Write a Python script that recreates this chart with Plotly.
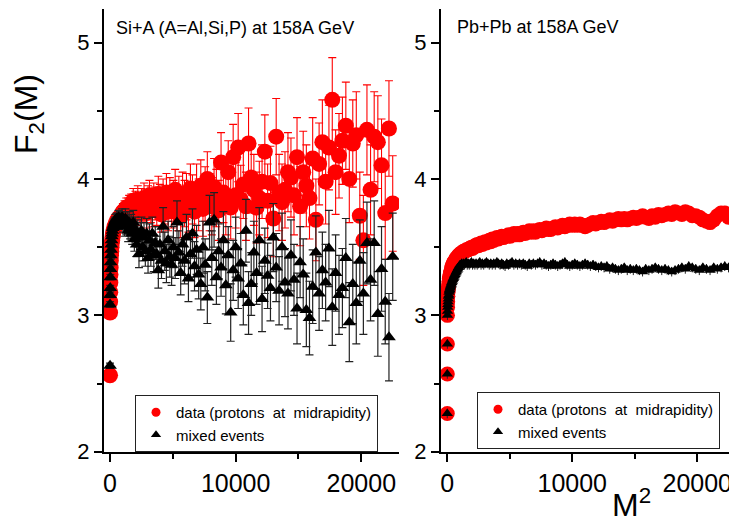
import plotly.graph_objects as go

# ---------------- data ----------------
# invariant-mass bins M = 1..150, plotted against M^2
M_bins = list(range(1, 151))
m_sq = [m * m for m in M_bins]

# Si+A panel
si_data = [
    2.56, 3.02, 3.10, 3.17, 3.24, 3.30, 3.35, 3.40, 3.44, 3.47,
    3.50, 3.53, 3.55, 3.57, 3.59, 3.61, 3.62, 3.63, 3.65, 3.66,
    3.66, 3.68, 3.67, 3.70, 3.69, 3.71, 3.70, 3.72, 3.73, 3.72,
    3.74, 3.76, 3.73, 3.77, 3.75, 3.79, 3.74, 3.78, 3.80, 3.76,
    3.81, 3.77, 3.84, 3.79, 3.82, 3.76, 3.85, 3.80, 3.78, 3.83,
    3.79, 3.86, 3.81, 3.75, 3.84, 3.88, 3.80, 3.77, 3.85, 3.82,
    3.78, 3.89, 3.83, 3.74, 3.87, 3.81, 3.90, 3.76, 3.86, 3.79,
    3.84, 3.92, 3.78, 3.86, 3.73, 3.88, 3.82, 3.87, 3.79, 3.93,
    3.85, 3.76, 3.92, 3.81, 3.95, 3.78, 3.89, 4.00, 3.83, 3.80,
    3.94, 3.86, 3.77, 4.12, 3.90, 3.82, 4.05, 3.79, 4.16, 3.88,
    4.23, 3.85, 3.96, 3.80, 4.26, 4.01, 3.92, 3.79, 3.86, 3.98,
    4.20, 3.84, 3.97, 3.71, 4.31, 3.90, 3.83, 3.92, 4.05, 4.01,
    3.88, 4.16, 3.80, 4.05, 3.95, 3.86, 4.15, 3.70, 4.11, 4.27,
    3.98, 4.23, 4.58, 4.05, 4.17, 4.28, 4.39, 4.00, 4.26, 4.32,
    3.73, 3.55, 4.36, 3.92, 4.31, 4.27, 4.10, 3.75, 4.37, 3.82,
]
si_data_err = [
    0.03, 0.02, 0.02, 0.02, 0.02, 0.02, 0.02, 0.02, 0.02, 0.02,
    0.03, 0.03, 0.03, 0.03, 0.03, 0.03, 0.03, 0.03, 0.03, 0.03,
    0.04, 0.04, 0.04, 0.05, 0.05, 0.05, 0.05, 0.05, 0.06, 0.06,
    0.06, 0.06, 0.07, 0.07, 0.07, 0.07, 0.08, 0.08, 0.08, 0.08,
    0.08, 0.09, 0.09, 0.09, 0.09, 0.10, 0.10, 0.10, 0.10, 0.10,
    0.10, 0.11, 0.11, 0.11, 0.11, 0.11, 0.12, 0.12, 0.12, 0.12,
    0.12, 0.13, 0.13, 0.13, 0.13, 0.14, 0.14, 0.14, 0.15, 0.15,
    0.15, 0.15, 0.16, 0.16, 0.16, 0.17, 0.17, 0.17, 0.18, 0.18,
    0.18, 0.19, 0.19, 0.19, 0.19, 0.20, 0.20, 0.20, 0.21, 0.21,
    0.21, 0.21, 0.22, 0.22, 0.22, 0.23, 0.23, 0.23, 0.24, 0.24,
    0.25, 0.25, 0.25, 0.25, 0.26, 0.26, 0.26, 0.26, 0.27, 0.27,
    0.27, 0.27, 0.27, 0.28, 0.28, 0.28, 0.28, 0.28, 0.29, 0.29,
    0.29, 0.29, 0.29, 0.30, 0.30, 0.30, 0.30, 0.30, 0.30, 0.31,
    0.31, 0.31, 0.31, 0.31, 0.31, 0.32, 0.32, 0.32, 0.32, 0.32,
    0.32, 0.33, 0.33, 0.33, 0.33, 0.34, 0.34, 0.34, 0.35, 0.35,
]
si_mixed = [
    2.63, 3.08, 3.15, 3.20, 3.28, 3.34, 3.39, 3.44, 3.48, 3.52,
    3.55, 3.58, 3.60, 3.62, 3.64, 3.65, 3.66, 3.67, 3.68, 3.69,
    3.70, 3.68, 3.71, 3.69, 3.70, 3.72, 3.68, 3.71, 3.69, 3.70,
    3.72, 3.67, 3.70, 3.65, 3.71, 3.66, 3.69, 3.62, 3.68, 3.64,
    3.66, 3.60, 3.68, 3.56, 3.63, 3.52, 3.60, 3.45, 3.58, 3.62,
    3.50, 3.57, 3.47, 3.60, 3.42, 3.55, 3.48, 3.60, 3.44, 3.53,
    3.45, 3.33, 3.52, 3.40, 3.65, 3.47, 3.38, 3.55, 3.43, 3.37,
    3.50, 3.42, 3.68, 3.46, 3.31, 3.52, 3.40, 3.57, 3.27, 3.45,
    3.60, 3.36, 3.48, 3.30, 3.23, 3.50, 3.37, 3.13, 3.68, 3.42,
    3.70, 3.28, 3.47, 3.35, 3.55, 3.22, 3.44, 3.02, 3.33, 3.50,
    3.27, 3.38, 3.15, 3.62, 3.09, 3.23, 3.46, 3.31, 3.55, 3.12,
    3.40, 3.29, 3.20, 3.57, 3.35, 3.18, 3.50, 3.24, 3.16, 3.44,
    3.26, 3.05, 3.39, 3.30, 3.04, 2.98, 3.21, 3.46, 3.16, 3.33,
    3.24, 3.49, 3.06, 3.31, 3.15, 3.20, 3.42, 2.95, 3.23, 3.09,
    3.40, 3.16, 3.53, 3.26, 3.53, 3.01, 3.34, 3.10, 2.84, 3.43,
]
si_mixed_err = [
    0.02, 0.02, 0.02, 0.02, 0.02, 0.02, 0.02, 0.02, 0.02, 0.02,
    0.03, 0.03, 0.03, 0.03, 0.03, 0.03, 0.03, 0.03, 0.03, 0.03,
    0.04, 0.04, 0.04, 0.04, 0.05, 0.05, 0.05, 0.05, 0.05, 0.06,
    0.06, 0.06, 0.06, 0.07, 0.07, 0.07, 0.07, 0.08, 0.08, 0.08,
    0.08, 0.08, 0.09, 0.09, 0.09, 0.09, 0.10, 0.10, 0.10, 0.10,
    0.10, 0.11, 0.11, 0.11, 0.11, 0.12, 0.12, 0.12, 0.12, 0.12,
    0.13, 0.13, 0.13, 0.13, 0.14, 0.14, 0.14, 0.14, 0.15, 0.15,
    0.15, 0.15, 0.16, 0.16, 0.16, 0.16, 0.17, 0.17, 0.17, 0.17,
    0.18, 0.18, 0.18, 0.18, 0.19, 0.19, 0.19, 0.19, 0.20, 0.20,
    0.20, 0.20, 0.20, 0.21, 0.21, 0.21, 0.21, 0.21, 0.22, 0.22,
    0.22, 0.22, 0.22, 0.23, 0.23, 0.23, 0.23, 0.23, 0.24, 0.24,
    0.24, 0.24, 0.24, 0.25, 0.25, 0.25, 0.25, 0.25, 0.26, 0.26,
    0.26, 0.26, 0.26, 0.26, 0.27, 0.27, 0.27, 0.27, 0.27, 0.28,
    0.28, 0.28, 0.28, 0.28, 0.29, 0.29, 0.29, 0.29, 0.29, 0.30,
    0.30, 0.30, 0.30, 0.30, 0.31, 0.31, 0.31, 0.31, 0.32, 0.32,
]

# Pb+Pb panel
pb_data = [
    2.28, 2.57, 2.79, 3.00, 3.06, 3.10, 3.14, 3.17, 3.19, 3.21,
    3.23, 3.25, 3.27, 3.28, 3.30, 3.31, 3.32, 3.33, 3.35, 3.36,
    3.37, 3.38, 3.39, 3.39, 3.40, 3.41, 3.42, 3.42, 3.43, 3.44,
    3.44, 3.45, 3.45, 3.46, 3.46, 3.47, 3.47, 3.47, 3.48, 3.48,
    3.48, 3.49, 3.49, 3.50, 3.49, 3.50, 3.51, 3.51, 3.52, 3.51,
    3.52, 3.53, 3.52, 3.53, 3.54, 3.53, 3.54, 3.55, 3.54, 3.56,
    3.55, 3.56, 3.57, 3.56, 3.57, 3.58, 3.57, 3.58, 3.58, 3.59,
    3.58, 3.59, 3.60, 3.59, 3.60, 3.59, 3.60, 3.61, 3.60, 3.61,
    3.62, 3.61, 3.62, 3.61, 3.62, 3.63, 3.62, 3.63, 3.64, 3.63,
    3.63, 3.64, 3.65, 3.64, 3.65, 3.66, 3.65, 3.66, 3.67, 3.66,
    3.67, 3.66, 3.67, 3.66, 3.65, 3.66, 3.67, 3.68, 3.67, 3.68,
    3.69, 3.68, 3.69, 3.70, 3.69, 3.70, 3.71, 3.70, 3.71, 3.70,
    3.71, 3.72, 3.71, 3.72, 3.73, 3.72, 3.71, 3.73, 3.72, 3.74,
    3.73, 3.74, 3.75, 3.74, 3.76, 3.75, 3.74, 3.76, 3.75, 3.73,
    3.73, 3.72, 3.70, 3.69, 3.68, 3.70, 3.73, 3.75, 3.75, 3.72,
]
pb_mixed = [
    2.28, 2.57, 2.79, 3.00, 3.03, 3.06, 3.08, 3.10, 3.12, 3.14,
    3.15, 3.17, 3.18, 3.19, 3.20, 3.21, 3.22, 3.23, 3.24, 3.25,
    3.26, 3.27, 3.28, 3.29, 3.30, 3.31, 3.32, 3.33, 3.34, 3.35,
    3.36, 3.37, 3.37, 3.38, 3.37, 3.38, 3.37, 3.38, 3.39, 3.37,
    3.38, 3.37, 3.38, 3.39, 3.37, 3.38, 3.37, 3.38, 3.37, 3.38,
    3.39, 3.37, 3.38, 3.37, 3.38, 3.39, 3.38, 3.37, 3.38, 3.37,
    3.38, 3.37, 3.39, 3.38, 3.37, 3.38, 3.37, 3.36, 3.38, 3.37,
    3.38, 3.39, 3.37, 3.38, 3.37, 3.38, 3.37, 3.38, 3.37, 3.36,
    3.38, 3.37, 3.38, 3.37, 3.38, 3.39, 3.37, 3.38, 3.37, 3.36,
    3.37, 3.38, 3.37, 3.36, 3.37, 3.38, 3.39, 3.37, 3.36, 3.37,
    3.38, 3.37, 3.36, 3.37, 3.38, 3.37, 3.36, 3.37, 3.36, 3.35,
    3.36, 3.35, 3.36, 3.34, 3.35, 3.34, 3.33, 3.34, 3.35, 3.33,
    3.34, 3.33, 3.34, 3.33, 3.32, 3.34, 3.33, 3.34, 3.35, 3.34,
    3.33, 3.34, 3.33, 3.32, 3.33, 3.34, 3.35, 3.34, 3.36, 3.35,
    3.34, 3.33, 3.35, 3.34, 3.33, 3.35, 3.34, 3.35, 3.36, 3.35,
]
pb_mixed_err = 0.035

legend_names = ["data (protons\u00a0 at\u00a0 midrapidity)", "mixed events"]
panel_titles = ["Si+A (A=Al,Si,P) at 158A GeV", "Pb+Pb at 158A GeV"]

RED = "#ff0000"
BLACK = "#000000"
FONT = "Arial, Liberation Sans, sans-serif"

fig = go.Figure()

# ---- left panel ----
fig.add_trace(go.Scatter(
    x=m_sq, y=si_data, mode="markers", showlegend=False,
    marker=dict(symbol="circle", size=16, color=RED, line=dict(width=0)),
    error_y=dict(type="data", array=si_data_err, color=RED, thickness=1.1, width=4),
    xaxis="x", yaxis="y"))
fig.add_trace(go.Scatter(
    x=m_sq, y=si_mixed, mode="markers", showlegend=False,
    marker=dict(symbol="triangle-up", size=12, color=BLACK, line=dict(width=0)),
    error_y=dict(type="data", array=si_mixed_err, color="#222222", thickness=1.2, width=4),
    xaxis="x", yaxis="y"))

# ---- right panel ----
fig.add_trace(go.Scatter(
    x=m_sq, y=pb_data, mode="markers", showlegend=False,
    marker=dict(symbol="circle", size=15, color=RED, line=dict(width=0)),
    xaxis="x2", yaxis="y2"))
fig.add_trace(go.Scatter(
    x=m_sq, y=pb_mixed, mode="markers", showlegend=False,
    marker=dict(symbol="triangle-up", size=10, color=BLACK, line=dict(width=0)),
    error_y=dict(type="constant", value=pb_mixed_err, color="#222222", thickness=1.0, width=0),
    xaxis="x2", yaxis="y2"))

# ---- legend entries ----
for leg, xa, ya in (("legend", "x", "y"), ("legend2", "x2", "y2")):
    fig.add_trace(go.Scatter(
        x=[None], y=[None], mode="markers", name=legend_names[0], legend=leg,
        marker=dict(symbol="circle", size=9, color=RED), xaxis=xa, yaxis=ya))
    fig.add_trace(go.Scatter(
        x=[None], y=[None], mode="markers", name=legend_names[1], legend=leg,
        marker=dict(symbol="triangle-up", size=9, color=BLACK), xaxis=xa, yaxis=ya))

# the page body adds an 8px offset; work in page pixels and convert
OFF = 8
W, H = 737 - OFF, 522 - OFF

def fx(px):
    return (px - OFF) / W

def fy(py):
    return (H - (py - OFF)) / H

ydom = [fy(451.7), fy(8.5)]

def xax(domain, anchor, rng):
    return dict(domain=domain, anchor=anchor, range=rng,
                showline=True, linecolor="black", linewidth=2,
                ticks="outside", ticklen=8, tickwidth=1.5, tickcolor="black",
                tick0=0, dtick=10000, tickformat="d",
                minor=dict(ticks="outside", ticklen=5, tickwidth=1.5, tickcolor="black", dtick=5000),
                showgrid=False, zeroline=False,
                tickfont=dict(family=FONT, size=25, color="black"))

def yax(anchor):
    return dict(domain=ydom, anchor=anchor, range=[2, 5.25],
                showline=True, linecolor="black", linewidth=2,
                ticks="outside", ticklen=8, tickwidth=1.5, tickcolor="black",
                tick0=2, dtick=1,
                minor=dict(ticks="outside", ticklen=5, tickwidth=1.5, tickcolor="black", dtick=0.5),
                showgrid=False, zeroline=False,
                tickfont=dict(family=FONT, size=22, color="black"))

leg_common = dict(bgcolor="rgba(255,255,255,0)", bordercolor="#222222", borderwidth=1,
                  font=dict(family=FONT, size=15, color="black"),
                  xanchor="left", yanchor="top", tracegroupgap=0, itemsizing="trace")

fig.update_layout(
    width=W, height=H, template="none",
    paper_bgcolor="white", plot_bgcolor="white",
    margin=dict(l=0, r=0, t=0, b=0),
    font=dict(family=FONT, color="black"),
    xaxis=xax([fx(104), fx(399)], "y", [-480, 23000]),
    yaxis=yax("x"),
    xaxis2=xax([fx(441), fx(736)], "y2", [-500, 23100]),
    yaxis2=yax("x2"),
    legend=dict(x=fx(135), y=fy(395), **leg_common),
    legend2=dict(x=fx(477), y=fy(392), **leg_common),
    annotations=[
        dict(text=panel_titles[0], x=fx(114), y=fy(28), xref="paper", yref="paper",
             xanchor="left", yanchor="middle", showarrow=False,
             font=dict(family=FONT, size=18, color="black")),
        dict(text=panel_titles[1], x=fx(455), y=fy(27), xref="paper", yref="paper",
             xanchor="left", yanchor="middle", showarrow=False,
             font=dict(family=FONT, size=18, color="black")),
        dict(text="F<sub>2</sub>(M)", x=fx(28), y=fy(114), xref="paper", yref="paper",
             xanchor="center", yanchor="middle", textangle=-90, showarrow=False,
             font=dict(family=FONT, size=32, color="black")),
        dict(text="M<sup>2</sup>", x=fx(631), y=fy(503), xref="paper", yref="paper",
             xanchor="center", yanchor="middle", showarrow=False,
             font=dict(family=FONT, size=32, color="black")),
    ],
)

fig.write_html("out.html")
